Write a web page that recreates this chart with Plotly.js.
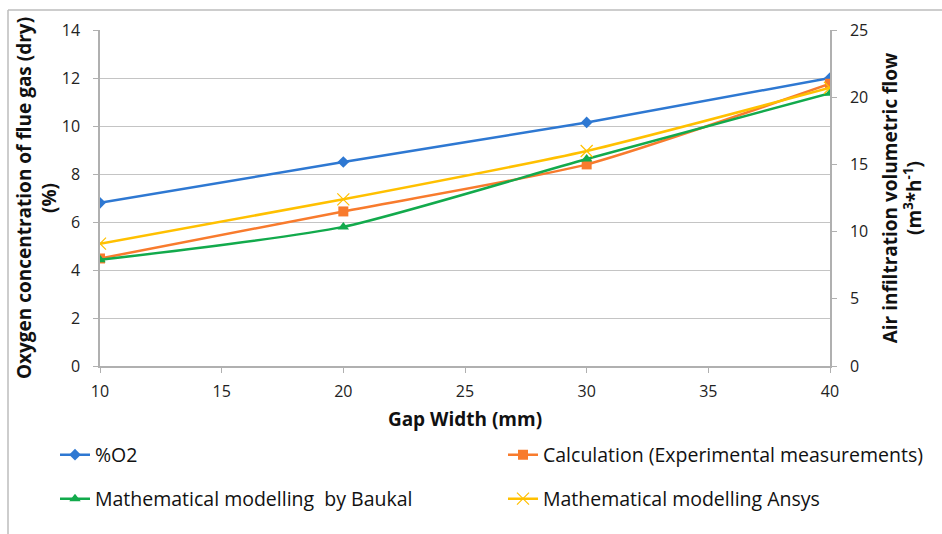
<!DOCTYPE html>
<html>
<head>
<meta charset="utf-8">
<script src="https://cdn.plot.ly/plotly-3.0.1.min.js"></script>
<style>html,body{margin:0;padding:0;background:#fff;}#chart{width:942px;height:534px;}</style>
</head>
<body>
<div id="chart"></div>
<script>
// Data
const gapWidth = [10, 20, 30, 40];
const o2Percent = [6.8, 8.5, 10.15, 12.0];            // left axis (%)
const calcExperimental = [8.0, 11.5, 15.0, 21.0];     // right axis (m3/h)
const baukalModel = [7.9, 10.35, 15.4, 20.3];         // right axis
const ansysModel = [9.1, 12.4, 16.0, 20.7];           // right axis

const seriesNames = ['%O2', 'Calculation (Experimental measurements)', 'Mathematical modelling  by Baukal', 'Mathematical modelling Ansys'];

const FONT = 'Open Sans, Liberation Sans, sans-serif';
const W = 942, H = 534, L = 100, R = 112, T = 30, B = 168;
const pw = W - L - R, ph = H - T - B;
const px = v => (v - L) / pw;
const py = v => (H - B - v) / ph;

const traces = [
  {x: gapWidth, y: o2Percent, name: seriesNames[0], yaxis: 'y', legend: 'legend',
   mode: 'lines+markers', line: {color: '#2E78D2', width: 2.5, shape: 'spline', smoothing: 0.6},
   marker: {symbol: 'diamond', size: 9, color: '#2E78D2'}},
  {x: gapWidth, y: calcExperimental, name: seriesNames[1], yaxis: 'y2', legend: 'legend2',
   mode: 'lines+markers', line: {color: '#F87B2D', width: 2.5, shape: 'spline', smoothing: 0.6},
   marker: {symbol: 'square', size: 10, color: '#F87B2D'}},
  {x: gapWidth, y: baukalModel, name: seriesNames[2], yaxis: 'y2', legend: 'legend3',
   mode: 'lines+markers', line: {color: '#12AA4C', width: 2.5, shape: 'spline', smoothing: 0.6},
   marker: {symbol: 'triangle-up', size: 10, color: '#12AA4C'}},
  {x: gapWidth, y: ansysModel, name: seriesNames[3], yaxis: 'y2', legend: 'legend4',
   mode: 'lines+markers', line: {color: '#FFC000', width: 2.5, shape: 'spline', smoothing: 0.6},
   marker: {symbol: 'x-thin-open', size: 12, color: '#FFC000', line: {color: '#FFC000', width: 1.2}}}
];

const legendCommon = {orientation: 'h', xanchor: 'left', yanchor: 'middle',
  font: {family: FONT, size: 19.5, color: '#111'}, bgcolor: 'rgba(0,0,0,0)'};
const mkLegend = (xp, yp) => Object.assign({}, legendCommon, {x: px(xp), y: py(yp)});

const tickFont = {family: FONT, size: 16, color: '#222'};
const titleFont = {family: FONT, size: 19, color: '#111'};

const layout = {
  width: W, height: H,
  margin: {l: L, r: R, t: T, b: B},
  paper_bgcolor: '#fff', plot_bgcolor: '#fff',
  font: {family: FONT, size: 16, color: '#222'},
  xaxis: {range: [10, 40], tickvals: [10, 15, 20, 25, 30, 35, 40], showgrid: false,
    showline: true, linecolor: '#B0B0B0', linewidth: 1.5, ticks: 'outside', ticklen: 5, tickcolor: '#B0B0B0',
    zeroline: false, tickfont: tickFont, ticklabelstandoff: 5,
    title: {text: '<b>Gap Width (mm)</b>', font: titleFont, standoff: 12}},
  yaxis: {range: [0, 14], dtick: 2, showgrid: true, gridcolor: '#C4C4C4', gridwidth: 1.2,
    showline: true, linecolor: '#B0B0B0', linewidth: 1.5, ticks: 'outside', ticklen: 5, tickcolor: '#B0B0B0',
    zeroline: false, tickfont: tickFont, ticklabelstandoff: 10,
    title: {text: '<b>Oxygen concentration of flue gas (dry)<br>(%)</b>', font: titleFont, standoff: 0}},
  yaxis2: {range: [0, 25], dtick: 5, overlaying: 'y', side: 'right', showgrid: false,
    showline: true, linecolor: '#B0B0B0', linewidth: 1.5, ticks: 'outside', ticklen: 5, tickcolor: '#B0B0B0',
    zeroline: false, tickfont: tickFont, ticklabelstandoff: 10,
    title: {text: '<b>Air infiltration volumetric flow<br>(m<sup>3</sup>*h<sup>-1</sup>)</b>', font: titleFont, standoff: 16}},
  legend: mkLegend(55, 455),
  legend2: mkLegend(503, 455),
  legend3: mkLegend(55, 499),
  legend4: mkLegend(503, 499),
  showlegend: true,
  shapes: [
    {type: 'line', xref: 'paper', yref: 'paper', x0: px(8), x1: px(8), y0: py(10), y1: py(534), line: {color: '#BDBDBD', width: 1.5}},
    {type: 'line', xref: 'paper', yref: 'paper', x0: px(8), x1: px(942), y0: py(10), y1: py(10), line: {color: '#BDBDBD', width: 1.5}}
  ]
};

Plotly.newPlot('chart', traces, layout, {displayModeBar: false, responsive: false});
</script>
</body>
</html>
